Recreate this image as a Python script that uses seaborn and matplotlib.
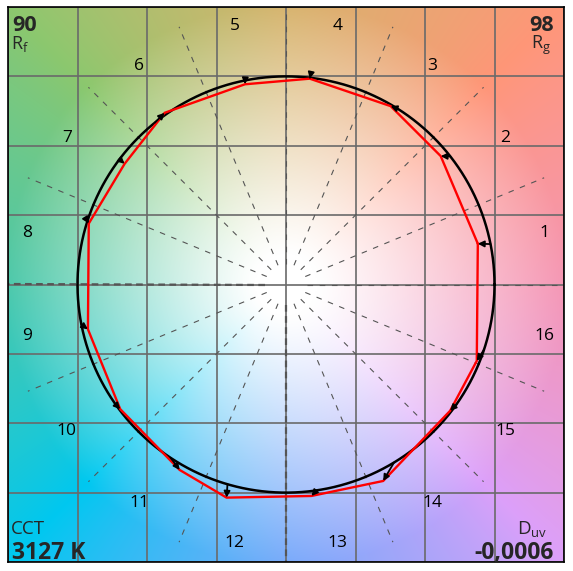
import numpy as np
import pandas as pd
import matplotlib
matplotlib.use("Agg")
import matplotlib.pyplot as plt
import seaborn as sns

# reference hue angle (deg) per bin, test point (normalised, circle radius = 1)
ref_angle = [11.2, 38.0, 57.6, 83.4, 101.3, 129.0, 143.0, 162.3,
             -168.9, -145.0, -123.6, -106.3, -81.6, -58.8, -35.0, -18.2]
test_x = [0.920, 0.742, 0.502, 0.114, -0.197, -0.582, -0.774, -0.946,
          -0.950, -0.795, -0.510, -0.285, 0.122, 0.466, 0.787, 0.915]
test_y = [0.196, 0.617, 0.857, 0.989, 0.962, 0.825, 0.580, 0.293,
          -0.215, -0.599, -0.891, -1.024, -1.016, -0.944, -0.607, -0.367]
bin_labels = [str(i) for i in range(1, 17)]

rf, rg = "90", "98"
cct = "3127 K"
duv = "-0,0006"

# background colours at frame corners / edge middles (rows: top, middle, bottom)
bg_grid = [["#8cc86e", "#d7b46e", "#ff9678"],
           ["#4bc8aa", "#ffffff", "#f596b4"],
           ["#00c8f0", "#78aafa", "#dca0fa"]]

sns.set_style("white")
plt.rcParams["font.family"] = ["Open Sans", "DejaVu Sans"]
plt.rcParams["mathtext.fontset"] = "custom"
plt.rcParams["mathtext.rm"] = "Open Sans"

lim = 4 / 3
fig = plt.figure(figsize=(5.73, 5.71), dpi=100)
ax = fig.add_axes([8 / 573, 9 / 571, 556 / 573, 555 / 571])

# background: colour of the frame edge in each direction, fading to white
n = 500
g = np.linspace(-1, 1, n)
U, V = np.meshgrid(g, g[::-1])
S = np.maximum(np.abs(U), np.abs(V)) + 1e-9
BU, BV = U / S, V / S
def w(t):
    return [np.maximum(t, 0), 1 - np.abs(t), np.maximum(-t, 0)]
wu = w(BU)[::-1]          # left, centre, right
wv = w(BV)                # top, centre, bottom
img = np.zeros((n, n, 3))
for i in range(3):
    for j in range(3):
        c = np.array(matplotlib.colors.to_rgb(bg_grid[i][j]))
        img += (wv[i] * wu[j])[..., None] * c
R = np.hypot(U, V) * lim
f = np.clip((R - 0.15) / 1.2, 0, 1) ** 1.1
img = (1 - f[..., None]) + img * f[..., None]
ax.imshow(img, extent=[-lim, lim, -lim, lim], aspect="auto", zorder=0,
          interpolation="bilinear")

# grid
ticks = np.arange(-4, 5) / 3
ax.set_xticks(ticks)
ax.set_yticks(ticks)
ax.set_xticklabels([])
ax.set_yticklabels([])
ax.tick_params(length=0)
ax.set_axisbelow(True)
ax.grid(True, color="#6a6a6a", lw=1.2)

# radial dashed lines at bin edges
for k in range(16):
    t = np.radians(k * 22.5)
    heavy = k in (8, 12)
    ax.plot([0.1 * np.cos(t), 1.34 * np.cos(t)], [0.1 * np.sin(t), 1.34 * np.sin(t)],
            color="#555555", lw=1.6 if heavy else 0.8,
            ls=(0, (3, 2)) if heavy else (0, (5, 6)), zorder=1)

# reference circle
th = np.linspace(0, 2 * np.pi, 400)
sns.lineplot(x=np.cos(th), y=np.sin(th), sort=False, estimator=None,
             color="black", lw=1.8, ax=ax, zorder=3)

# test polygon
px = np.append(test_x, test_x[0])
py = np.append(test_y, test_y[0])
sns.lineplot(x=px, y=py, sort=False, estimator=None, color="#ff0000", lw=1.7,
             ax=ax, zorder=4)

# arrows reference -> test
for a, tx, ty in zip(ref_angle, test_x, test_y):
    rx, ry = np.cos(np.radians(a)), np.sin(np.radians(a))
    ax.annotate("", xy=(tx, ty), xytext=(rx, ry),
                arrowprops=dict(arrowstyle="-|>", color="black", lw=1.3,
                                mutation_scale=9, shrinkA=0, shrinkB=0),
                zorder=5)

# bin numbers
for i, lab in enumerate(bin_labels):
    t = np.radians(11.25 + 22.5 * i)
    ax.text(1.265 * np.cos(t), 1.265 * np.sin(t), lab, ha="center", va="center",
            fontsize=12.5, color="black")

# corner annotations
tr = ax.transAxes
ax.text(0.008, 0.957, rf, transform=tr, ha="left", va="baseline",
        fontsize=15.5, fontweight="bold")
ax.text(0.006, 0.924, r"R$_\mathrm{f}$", transform=tr, ha="left",
        va="baseline", fontsize=13)
ax.text(0.981, 0.957, rg, transform=tr, ha="right", va="baseline",
        fontsize=15.5, fontweight="bold")
ax.text(0.977, 0.924, r"R$_\mathrm{g}$", transform=tr, ha="right",
        va="baseline", fontsize=13)
ax.text(0.006, 0.050, "CCT", transform=tr, ha="left", va="baseline",
        fontsize=13.5)
ax.text(0.008, 0.0055, cct, transform=tr, ha="left", va="baseline",
        fontsize=16.5, fontweight="bold")
ax.text(0.970, 0.050, r"D$_\mathrm{uv}$", transform=tr, ha="right",
        va="baseline", fontsize=13.5)
ax.text(0.981, 0.0055, duv, transform=tr, ha="right", va="baseline",
        fontsize=16.5, fontweight="bold")

ax.set_xlim(-lim, lim)
ax.set_ylim(-lim, lim)
for s in ax.spines.values():
    s.set_visible(True)
    s.set_color("black")
    s.set_linewidth(1.2)

fig.savefig("out.png", dpi=100)
